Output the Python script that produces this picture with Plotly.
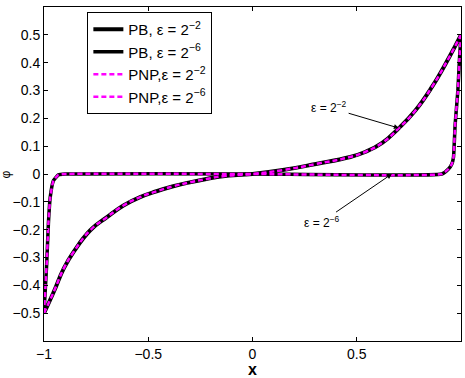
import plotly.graph_objects as go

# epsilon = 2^-2 solution
x_e2 = [-1.0, -0.953, -0.905, -0.858, -0.778, -0.698, -0.619, -0.539, -0.460, -0.380, -0.301, -0.221, -0.142, 0.0,
        0.145, 0.304, 0.463, 0.543, 0.622, 0.702, 0.781, 0.860, 0.940, 1.0]
y_e2 = [-0.5, -0.423, -0.339, -0.280, -0.202, -0.155, -0.113, -0.083, -0.062, -0.044, -0.030, -0.018, -0.008, 0.0,
        0.014, 0.036, 0.060, 0.080, 0.112, 0.165, 0.228, 0.312, 0.415, 0.5]

# epsilon = 2^-6 solution
x_e6 = [-1.0, -0.987, -0.979, -0.970, -0.955, -0.931, -0.899, 0.0, 0.908, 0.940, 0.956, 0.964, 0.972, 0.985, 0.993, 1.0]
y_e6 = [-0.5, -0.321, -0.179, -0.083, -0.024, -0.003, 0.0, 0.0, 0.0, 0.018, 0.036, 0.06, 0.179, 0.30, 0.417, 0.5]

x_ticks = [-1, -0.5, 0, 0.5, 1]
y_ticks = [-0.5, -0.4, -0.3, -0.2, -0.1, 0, 0.1, 0.2, 0.3, 0.4, 0.5]

names = ["PB, ε = 2<sup>−2</sup>", "PB, ε = 2<sup>−6</sup>", "PNP,ε = 2<sup>−2</sup>", "PNP,ε = 2<sup>−6</sup>"]

fig = go.Figure()
fig.add_trace(go.Scatter(x=x_e2, y=y_e2, mode="lines", name=names[0],
                         line=dict(color="black", width=4, shape="spline", smoothing=1.3)))
fig.add_trace(go.Scatter(x=x_e6, y=y_e6, mode="lines", name=names[1],
                         line=dict(color="black", width=3.5, shape="spline", smoothing=0.4)))
fig.add_trace(go.Scatter(x=x_e2, y=y_e2, mode="lines", name=names[2],
                         line=dict(color="#ff00ff", width=2.5, dash="5px,3px", shape="spline", smoothing=1.3)))
fig.add_trace(go.Scatter(x=x_e6, y=y_e6, mode="lines", name=names[3],
                         line=dict(color="#ff00ff", width=2.5, dash="5px,3px", shape="spline", smoothing=0.4)))

axis_common = dict(showline=True, linecolor="black", linewidth=1, mirror="ticks",
                   ticks="inside", ticklen=4, tickcolor="black", showgrid=False, zeroline=False,
                   tickfont=dict(size=14, color="black"))

fig.update_xaxes(range=[-1, 1], tickvals=x_ticks, ticktext=[str(v).replace("-", "−") for v in x_ticks],
                 title=dict(text="<b>x</b>", font=dict(size=16, color="black"), standoff=2), **axis_common)
fig.update_yaxes(range=[-0.6, 0.6], tickvals=y_ticks,
                 ticktext=[("0" if v == 0 else str(v).replace("-", "−")) for v in y_ticks], **axis_common)

fig.add_annotation(x=0.702, y=0.165, ax=0.3675, ay=0.239, xref="x", yref="y", axref="x", ayref="y",
                   text="ε = 2<sup>−2</sup>", showarrow=True, arrowhead=2, arrowsize=1, arrowwidth=1,
                   arrowcolor="black", font=dict(size=12, color="black"))
fig.add_annotation(x=0.668, y=0.0, ax=0.334, ay=-0.171, xref="x", yref="y", axref="x", ayref="y",
                   text="ε = 2<sup>−6</sup>", showarrow=True, arrowhead=2, arrowsize=1, arrowwidth=1,
                   arrowcolor="black", font=dict(size=12, color="black"))
fig.add_annotation(x=-0.09, y=0.5, xref="paper", yref="paper", xanchor="center", yanchor="middle",
                   text="φ", showarrow=False, textangle=-90, font=dict(size=12, color="black"))

fig.update_layout(
    width=465, height=378,
    margin=dict(l=43.5, r=3, t=7, b=35),
    paper_bgcolor="white", plot_bgcolor="white",
    font=dict(family="Liberation Sans, Arial, sans-serif", size=12, color="black"),
    showlegend=True,
    legend=dict(x=0.104, y=0.985, xanchor="left", yanchor="top", bgcolor="white",
                bordercolor="black", borderwidth=1, font=dict(size=15), tracegroupgap=0),
)

fig.write_html("out.html")
